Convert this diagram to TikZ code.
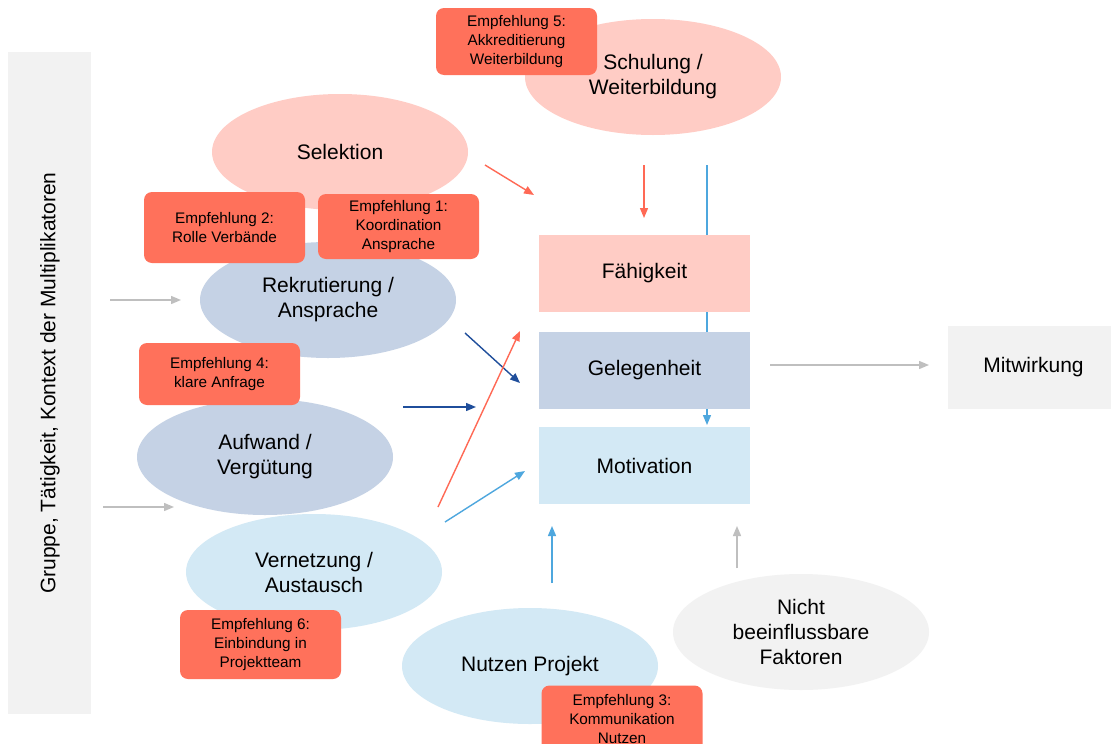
\documentclass[tikz,border=0pt]{standalone}
\usepackage{fontspec}
\setmainfont{Liberation Sans}
\usetikzlibrary{shapes.geometric,arrows.meta}
\definecolor{pinkf}{RGB}{255,204,197}
\definecolor{greyblue}{RGB}{197,210,229}
\definecolor{lightblue}{RGB}{211,233,245}
\definecolor{lightgrey}{RGB}{242,242,242}
\definecolor{empf}{RGB}{255,113,91}
\definecolor{salmonarr}{RGB}{255,105,85}
\definecolor{darkbluearr}{RGB}{31,78,155}
\definecolor{lightbluearr}{RGB}{78,167,222}
\definecolor{greyarr}{RGB}{191,191,191}
\begin{document}
\begin{tikzpicture}[x=1pt,y=-1pt,
  ell/.style={ellipse, minimum width=256pt, minimum height=116pt, inner sep=0pt, align=center, font=\fontsize{21}{25}\selectfont},
  rec/.style={rectangle, minimum width=211pt, minimum height=77pt, inner sep=0pt, align=center, font=\fontsize{21}{25}\selectfont},
  emp/.style={rectangle, rounded corners=8pt, fill=empf, minimum width=161pt, minimum height=67pt, inner sep=0pt, align=center, font=\fontsize{15.3}{18.8}\selectfont},
  arr/.style={-{Triangle[length=10pt,width=8pt]}, line width=1.4pt}
]
\clip (0,0) rectangle (1111,744);
\fill[white] (0,0) rectangle (1111,744);

% left context bar
\node[rectangle, fill=lightgrey, minimum width=83pt, minimum height=662pt, inner sep=0pt] (ctx) at (49.5,383) {};
\node[rotate=90, font=\fontsize{21}{25}\selectfont] (ctxtext) at (50,383) {Gruppe, Tätigkeit, Kontext der Multiplikatoren};

% ellipses
\node[ell, fill=pinkf] (schulung) at (653,77) {Schulung /\\Weiterbildung};
\node[ell, fill=pinkf] (selektion) at (340,152) {Selektion};
\node[ell, fill=greyblue] (rekrut) at (328,300) {Rekrutierung /\\Ansprache};
\node[ell, fill=greyblue] (aufwand) at (265,457) {Aufwand /\\Vergütung};
\node[ell, fill=lightblue] (vernetz) at (314,572) {Vernetzung /\\Austausch};
\node[ell, fill=lightblue] (nutzen) at (530,666) {Nutzen Projekt};
\node[ell, fill=lightgrey] (nicht) at (801,632) {Nicht\\beeinflussbare\\Faktoren};

% coordinates for free arrows
\coordinate (g1s) at (110,300); \coordinate (g1e) at (181,300);
\coordinate (g2s) at (103,507); \coordinate (g2e) at (174,507);
\coordinate (s1s) at (485,165); \coordinate (s1e) at (534,195);
\coordinate (s2s) at (644,165); \coordinate (s2e) at (644,218);
\coordinate (b1s) at (707,165); \coordinate (b1e) at (707,425);
\coordinate (d1s) at (465,333); \coordinate (d1e) at (520,383);
\coordinate (d2s) at (403,407); \coordinate (d2e) at (476,407);
\coordinate (r3s) at (438,507); \coordinate (r3e) at (520,331);
\coordinate (l1s) at (445,522); \coordinate (l1e) at (525,471);
\coordinate (l2s) at (552,583); \coordinate (l2e) at (552,526);
\coordinate (g3s) at (737,568); \coordinate (g3e) at (737,526);
\coordinate (g4s) at (770,365); \coordinate (g4e) at (929,365);

% vertical line behind rectangles
\draw[arr, lightbluearr] (b1s) -- (b1e);

% rectangles
\node[rec, fill=pinkf] (faehig) at (644.5,273.5) {Fähigkeit};
\node[rec, fill=greyblue] (geleg) at (644.5,370) {Gelegenheit};
\node[rec, fill=lightblue] (motiv) at (644.5,465.5) {Motivation};
\node[rectangle, fill=lightgrey, minimum width=163pt, minimum height=83pt, inner sep=0pt, font=\fontsize{21}{25}\selectfont] (mitw) at (1029.5,367.5) {\hspace*{8pt}Mitwirkung};

% arrows
\draw[arr, greyarr] (g1s) -- (g1e);
\draw[arr, greyarr] (g2s) -- (g2e);
\draw[arr, salmonarr] (s1s) -- (s1e);
\draw[arr, salmonarr] (s2s) -- (s2e);
\draw[arr, darkbluearr] (d1s) -- (d1e);
\draw[arr, darkbluearr] (d2s) -- (d2e);
\draw[arr, salmonarr] (r3s) -- (r3e);
\draw[arr, lightbluearr] (l1s) -- (l1e);
\draw[arr, lightbluearr] (l2s) -- (l2e);
\draw[arr, greyarr] (g3s) -- (g3e);
\draw[arr, greyarr] (g4s) -- (g4e);

% recommendations
\node[emp] (e5) at (516.5,41.5) {Empfehlung 5:\\Akkreditierung\\Weiterbildung};
\node[emp, minimum height=71pt] (e2) at (224.5,227.5) {Empfehlung 2:\\Rolle Verbände};
\node[emp, minimum height=65pt] (e1) at (398.5,226.5) {Empfehlung 1:\\Koordination\\Ansprache};
\node[emp, minimum height=62pt] (e4) at (219.5,374) {Empfehlung 4:\\klare Anfrage};
\node[emp, minimum height=69pt] (e6) at (260.5,644.5) {Empfehlung 6:\\Einbindung in\\Projektteam};
\node[emp] (e3) at (622,719) {Empfehlung 3:\\Kommunikation\\Nutzen};
\end{tikzpicture}
\end{document}
